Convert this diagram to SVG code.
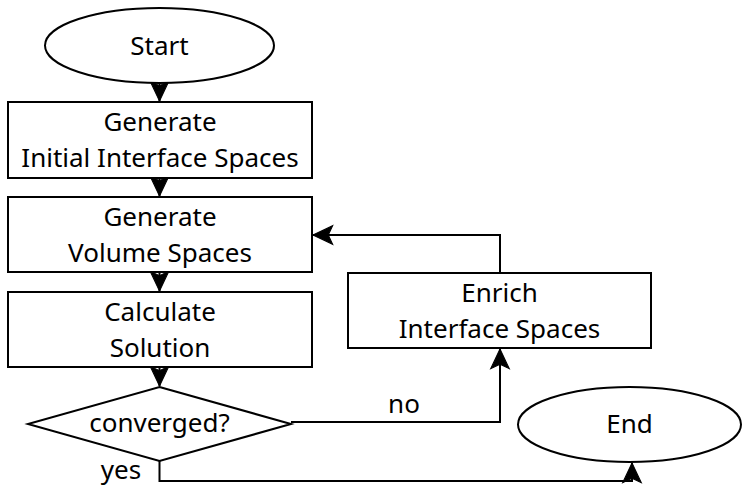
<svg xmlns="http://www.w3.org/2000/svg" width="742" height="487" viewBox="0 0 742 487">
  <style>
    .shape { fill: #ffffff; stroke: #000000; stroke-width: 2; }
    .edge { fill: none; stroke: #000000; stroke-width: 2; }
    .label { font-family: "Noto Sans", "Open Sans", sans-serif; font-size: 26px; fill: #000000; text-anchor: middle; }
  </style>
  <defs>
    <marker id="arrow" markerUnits="userSpaceOnUse" markerWidth="24" markerHeight="24" viewBox="-20 -10 22 20" refX="0" refY="0" orient="auto">
      <path d="M0,0 L-18,-8.5 L-14,0 L-18,8.5 Z" fill="#000000" stroke="#000000" stroke-width="1"/>
    </marker>
  </defs>

  <g id="connectors">
    <path class="edge" d="M159.5,83 L159.5,101" marker-end="url(#arrow)"/>
    <path class="edge" d="M159.5,178 L159.5,196" marker-end="url(#arrow)"/>
    <path class="edge" d="M159.5,272 L159.5,291" marker-end="url(#arrow)"/>
    <path class="edge" d="M159.5,367 L159.5,386" marker-end="url(#arrow)"/>
    <path class="edge" d="M291,422 L500,422 L500,349" marker-end="url(#arrow)"/>
    <path class="edge" d="M500,273 L500,235 L313,235" marker-end="url(#arrow)"/>
    <path class="edge" d="M159.5,461 L159.5,481 L632,481 L632,463" marker-end="url(#arrow)"/>
    <text class="label" x="404" y="413">no</text>
    <text class="label" x="121" y="479">yes</text>
  </g>

  <g id="start">
    <ellipse class="shape" cx="159.5" cy="45.5" rx="114.5" ry="37.5"/>
    <text class="label" x="159.5" y="55">Start</text>
  </g>

  <g id="generate-initial">
    <rect class="shape" x="8" y="102" width="304" height="76"/>
    <text class="label" x="160" y="131">Generate</text>
    <text class="label" x="160" y="167">Initial Interface Spaces</text>
  </g>

  <g id="generate-volume">
    <rect class="shape" x="8" y="197" width="304" height="75"/>
    <text class="label" x="160" y="225.5">Generate</text>
    <text class="label" x="160" y="261.5">Volume Spaces</text>
  </g>

  <g id="calculate">
    <rect class="shape" x="8" y="292" width="304" height="75"/>
    <text class="label" x="160" y="320.5">Calculate</text>
    <text class="label" x="160" y="356.5">Solution</text>
  </g>

  <g id="converged">
    <polygon class="shape" points="159.5,387 291,424 159.5,461 28,424"/>
    <text class="label" x="159.5" y="432">converged?</text>
  </g>

  <g id="enrich">
    <rect class="shape" x="348" y="273" width="303" height="75"/>
    <text class="label" x="499.5" y="301.5">Enrich</text>
    <text class="label" x="499.5" y="337.5">Interface Spaces</text>
  </g>

  <g id="end">
    <ellipse class="shape" cx="629.5" cy="424.5" rx="111.5" ry="37.5"/>
    <text class="label" x="629.5" y="433">End</text>
  </g>
</svg>
